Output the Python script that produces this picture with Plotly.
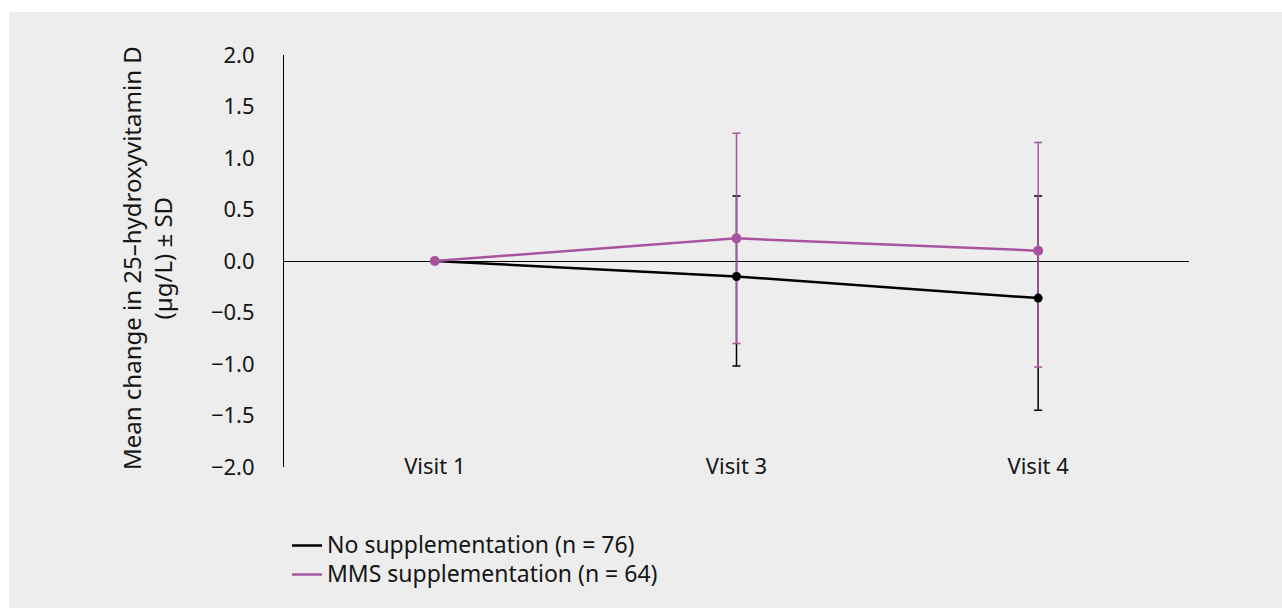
import plotly.graph_objects as go

# Visits on the x axis
visits = ["Visit 1", "Visit 3", "Visit 4"]

# Mean change in 25-hydroxyvitamin D (µg/L) and SD bounds, no supplementation
no_supp_mean = [0.0, -0.15, -0.36]
no_supp_err_plus = [0.0, 0.78, 0.99]
no_supp_err_minus = [0.0, 0.87, 1.09]

# Same for MMS supplementation
mms_mean = [0.0, 0.22, 0.10]
mms_err_plus = [0.0, 1.02, 1.05]
mms_err_minus = [0.0, 1.02, 1.13]

y_ticks = [-2.0, -1.5, -1.0, -0.5, 0.0, 0.5, 1.0, 1.5, 2.0]

BLACK = "#000000"
PURPLE = "#a9539f"
BG = "#ededed"
TXT = "#151515"
FONT = "Noto Sans"


def legend_label(text):
    # larger glyphs while keeping compact legend row spacing
    return f'<span style="font-size:23px">{text}</span>'


fig = go.Figure()

# lines with SD error bars (these carry the legend entries)
fig.add_trace(go.Scatter(
    x=visits, y=no_supp_mean, mode="lines",
    name=legend_label("No supplementation (n = 76)"),
    line=dict(color=BLACK, width=2.5),
    error_y=dict(type="data", symmetric=False, array=no_supp_err_plus,
                 arrayminus=no_supp_err_minus, color=BLACK, thickness=1.5, width=4),
))
fig.add_trace(go.Scatter(
    x=visits, y=mms_mean, mode="lines",
    name=legend_label("MMS supplementation (n = 64)"),
    line=dict(color=PURPLE, width=2.5),
    error_y=dict(type="data", symmetric=False, array=mms_err_plus,
                 arrayminus=mms_err_minus, color=PURPLE, thickness=1.5, width=4),
))

# point markers drawn over the bars
fig.add_trace(go.Scatter(
    x=visits, y=mms_mean, mode="markers", showlegend=False,
    marker=dict(color=PURPLE, size=10), hoverinfo="skip",
))
fig.add_trace(go.Scatter(
    x=visits[1:], y=no_supp_mean[1:], mode="markers", showlegend=False,
    marker=dict(color=BLACK, size=9), hoverinfo="skip",
))

W, H = 1282, 608
L, R, T, B = 284, 93, 55, 141
pw, ph = W - L - R, H - T - B

fig.update_layout(
    width=W, height=H,
    margin=dict(l=L, r=R, t=T, b=B),
    paper_bgcolor="white",
    plot_bgcolor=BG,
    font=dict(family=FONT, color=TXT, size=22),
    showlegend=True,
    legend=dict(
        x=(287 - L) / pw, y=(H - B - 526) / ph, xanchor="left", yanchor="top",
        bgcolor="rgba(0,0,0,0)", font=dict(size=20, family=FONT, color=TXT),
        itemwidth=30, tracegroupgap=0,
    ),
    xaxis=dict(
        type="category", range=[-0.5, 2.5],
        showgrid=False, zeroline=False, showline=False, ticks="",
        anchor="free", position=0.04,
        tickfont=dict(size=22, family=FONT, color=TXT),
    ),
    yaxis=dict(
        range=[-2, 2], tickvals=y_ticks, tickformat=".1f",
        showgrid=False, zeroline=True, zerolinecolor=BLACK, zerolinewidth=1,
        showline=True, linecolor=BLACK, linewidth=1, ticks="",
        ticklabelstandoff=24, domain=[0, 1],
        tickfont=dict(size=22, family=FONT, color=TXT),
    ),
    shapes=[dict(
        type="rect", xref="paper", yref="paper", layer="below",
        x0=(9 - L) / pw, x1=(W - L) / pw + 0.01,
        y0=(H - B - H) / ph - 0.01, y1=(H - B - 12) / ph,
        fillcolor=BG, line=dict(width=0),
    )],
    annotations=[dict(
        text="Mean change in 25–hydroxyvitamin D<br>(µg/L) ± SD",
        xref="paper", yref="paper", x=(147 - L) / pw, y=(H - B - 258) / ph,
        xanchor="center", yanchor="middle", textangle=-90, showarrow=False,
        font=dict(size=24, family=FONT, color=TXT),
    )],
)

fig.write_html("out.html")
